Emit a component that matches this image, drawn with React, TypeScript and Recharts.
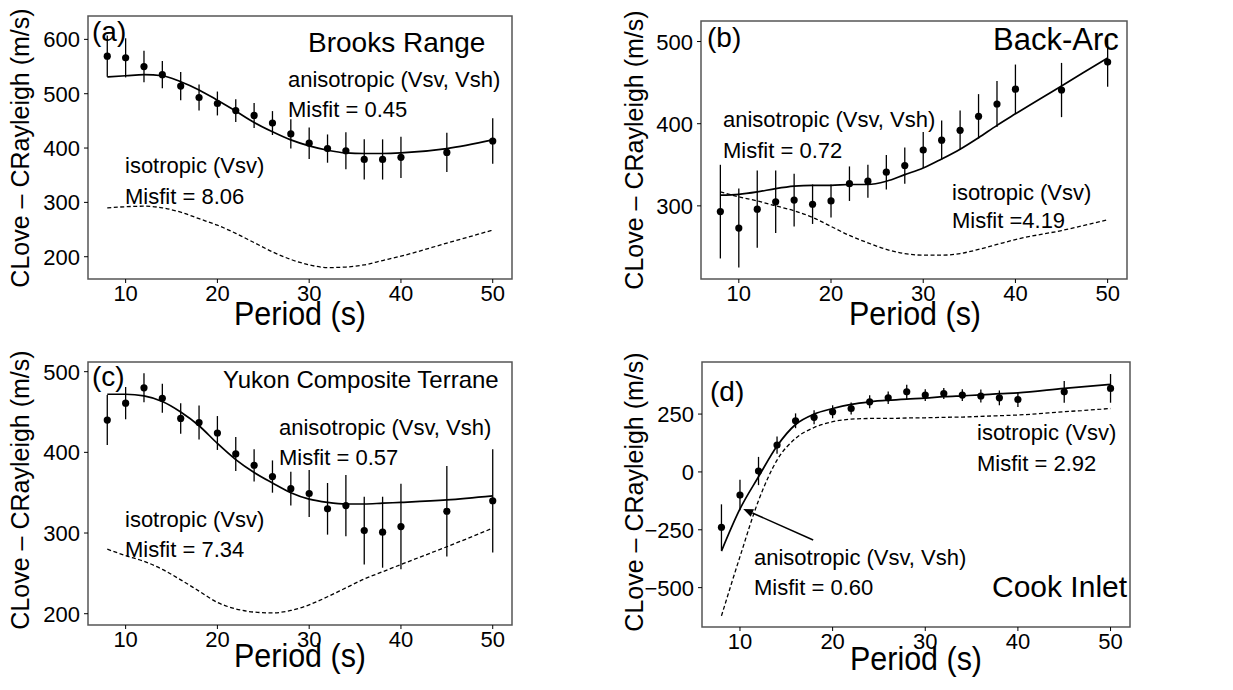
import React from "react";
import { ComposedChart, Line, Scatter, ErrorBar, XAxis, YAxis, ReferenceArea, ReferenceLine } from "recharts";

const periods = [8, 10, 12, 14, 16, 18, 20, 22, 24, 26, 28, 30, 32, 34, 36, 38, 40, 45, 50];
const xTicks = [10, 20, 30, 40, 50];

// (a) Brooks Range
const brooksObs = [569, 566, 550, 535, 514, 493, 482, 469, 460, 446, 426, 409, 399, 395, 379, 379, 383, 392, 413];
const brooksErr = [38, 36, 29, 25, 26, 24, 22, 21, 23, 22, 27, 29, 26, 34, 37, 37, 38, 36, 42];
const brooksAniso = [531, 533, 535, 533, 522, 507, 488, 468, 447, 430, 415, 404, 396, 391, 390, 390, 391, 399, 415];
const brooksIso = [290, 292, 293, 290, 282, 270, 258, 243, 226, 209, 195, 185, 180, 181, 185, 193, 201, 225, 249];

// (b) Back-Arc
const backArcObs = [293, 273, 296, 305, 307, 302, 306, 327, 330, 341, 349, 368, 380, 392, 409, 424, 442, 441, 475];
const backArcErr = [57, 48, 47, 38, 32, 24, 20, 21, 20, 21, 22, 22, 24, 24, 27, 28, 30, 33, 30];
const backArcAniso = [313, 314, 317, 321, 324, 325, 325, 326, 326, 330, 338, 346, 357, 369, 383, 398, 412, 446, 480];
const backArcIso = [317, 311, 306, 300, 294, 286, 275, 264, 255, 247, 242, 240, 240, 242, 247, 253, 259, 270, 283];

// (c) Yukon Composite Terrane
const yukonObs = [440, 461, 480, 467, 442, 437, 424, 398, 384, 370, 355, 349, 330, 334, 303, 301, 308, 327, 340];
const yukonErr = [31, 20, 18, 18, 19, 21, 21, 21, 20, 20, 21, 29, 32, 38, 42, 44, 53, 56, 64];
const yukonAniso = [472, 472, 470, 463, 450, 433, 411, 391, 375, 362, 350, 342, 338, 336, 336, 337, 338, 341, 346];
const yukonIso = [280, 272, 265, 255, 242, 228, 214, 206, 202, 201, 204, 211, 221, 232, 243, 252, 261, 283, 306];

// (d) Cook Inlet
const cookObs = [-239, -100, 4, 116, 221, 236, 260, 274, 303, 320, 346, 332, 339, 332, 328, 320, 313, 346, 361];
const cookErr = [99, 66, 61, 37, 32, 30, 28, 26, 28, 27, 31, 25, 24, 25, 28, 32, 32, 47, 62];
const cookAniso = [-342, -160, -21, 112, 205, 250, 274, 292, 303, 310, 315, 319, 325, 329, 333, 338, 342, 361, 378];
const cookIso = [-622, -366, -124, 51, 145, 192, 217, 228, 231, 231, 233, 234, 236, 237, 240, 243, 246, 260, 274];

const FONT = "'Liberation Sans', Arial, sans-serif";
const X_DOMAIN: [number, number] = [5.9, 52.1];

const makeRows = (obs: number[], err: number[], aniso: number[], iso: number[]) =>
  periods.map((p, i) => ({ p, obs: obs[i], err: err[i], aniso: aniso[i], iso: iso[i] }));

const Dot = (props: any) => <circle cx={props.cx} cy={props.cy} r={3.6} fill="#000" />;

const XTick = (props: any) => (
  <text x={props.x} y={props.y + 16} textAnchor="middle" fontSize={22} fontFamily={FONT} fill="#000">
    {props.payload.value}
  </text>
);

const YTick = (props: any) => (
  <text x={props.x} y={props.y + 8} textAnchor="end" fontSize={22} fontFamily={FONT} fill="#000">
    {String(props.payload.value).replace("-", "\u2212")}
  </text>
);

const Arrow = (props: any) => {
  const { x1, y1, x2, y2 } = props;
  const a = Math.atan2(y2 - y1, x2 - x1);
  const len = 10;
  const hw = 4;
  const bx = x2 - len * Math.cos(a);
  const by = y2 - len * Math.sin(a);
  const px = -Math.sin(a) * hw;
  const py = Math.cos(a) * hw;
  return (
    <g>
      <line x1={x1} y1={y1} x2={bx} y2={by} stroke="#000" strokeWidth={1.5} />
      <polygon points={`${x2},${y2} ${bx + px},${by + py} ${bx - px},${by - py}`} fill="#000" />
    </g>
  );
};

interface PanelProps {
  rect: { x: number; y: number; w: number; h: number };
  rows: any[];
  yDomain: [number, number];
  yTicks: number[];
  arrow?: { x: number; y: number }[];
}

function Panel({ rect, rows, yDomain, yTicks, arrow }: PanelProps) {
  const yw = 60, mt = 5, mr = 5, xh = 30;
  return (
    <div style={{ position: "absolute", left: rect.x - yw, top: rect.y - mt }}>
      <ComposedChart
        width={rect.w + yw + mr}
        height={rect.h + mt + xh}
        data={rows}
        margin={{ top: mt, right: mr, left: 0, bottom: 0 }}
      >
        <XAxis
          dataKey="p"
          type="number"
          domain={X_DOMAIN}
          ticks={xTicks}
          allowDataOverflow
          height={xh}
          tickSize={4}
          tickMargin={2}
          axisLine={false}
          tickLine={{ stroke: "#000" }}
          tick={XTick}
        />
        <YAxis
          type="number"
          domain={yDomain}
          ticks={yTicks}
          allowDataOverflow
          width={yw}
          tickSize={4}
          tickMargin={4}
          axisLine={false}
          tickLine={{ stroke: "#000" }}
          tick={YTick}
        />
        <ReferenceArea
          x1={X_DOMAIN[0]}
          x2={X_DOMAIN[1]}
          y1={yDomain[0]}
          y2={yDomain[1]}
          fill="none"
          fillOpacity={0}
          stroke="#555"
          strokeWidth={1.5}
          ifOverflow="visible"
        />
        <Line dataKey="iso" type="monotone" stroke="#000" strokeWidth={1.3} strokeDasharray="4 2.5" dot={false} isAnimationActive={false} />
        <Line dataKey="aniso" type="monotone" stroke="#000" strokeWidth={1.7} dot={false} isAnimationActive={false} />
        <Scatter dataKey="obs" fill="#000" shape={Dot} isAnimationActive={false}>
          <ErrorBar dataKey="err" direction="y" width={0} stroke="#000" strokeWidth={1.3} isAnimationActive={false} />
        </Scatter>
        {arrow && <ReferenceLine segment={arrow} shape={Arrow} ifOverflow="visible" />}
      </ComposedChart>
    </div>
  );
}

const notes = [
  { x: 92, y: 41, t: "(a)", s: 28 },
  { x: 308, y: 52, t: "Brooks Range", s: 28 },
  { x: 288, y: 87, t: "anisotropic (Vsv, Vsh)", s: 22 },
  { x: 288, y: 117, t: "Misfit = 0.45", s: 22 },
  { x: 125, y: 173, t: "isotropic (Vsv)", s: 22 },
  { x: 125, y: 204, t: "Misfit = 8.06", s: 22 },

  { x: 707, y: 47, t: "(b)", s: 28 },
  { x: 993, y: 50, t: "Back-Arc", s: 31 },
  { x: 723, y: 127, t: "anisotropic (Vsv, Vsh)", s: 22 },
  { x: 723, y: 158, t: "Misfit = 0.72", s: 22 },
  { x: 952, y: 200, t: "isotropic (Vsv)", s: 22 },
  { x: 952, y: 228, t: "Misfit =4.19", s: 22 },

  { x: 92, y: 386, t: "(c)", s: 28 },
  { x: 223, y: 388, t: "Yukon Composite Terrane", s: 24 },
  { x: 279, y: 435, t: "anisotropic (Vsv, Vsh)", s: 22 },
  { x: 279, y: 465, t: "Misfit = 0.57", s: 22 },
  { x: 125, y: 527, t: "isotropic (Vsv)", s: 22 },
  { x: 125, y: 557, t: "Misfit = 7.34", s: 22 },

  { x: 710, y: 401, t: "(d)", s: 28 },
  { x: 977, y: 440, t: "isotropic (Vsv)", s: 22 },
  { x: 977, y: 471, t: "Misfit = 2.92", s: 22 },
  { x: 754, y: 565, t: "anisotropic (Vsv, Vsh)", s: 22 },
  { x: 754, y: 595, t: "Misfit = 0.60", s: 22 },
  { x: 992, y: 597, t: "Cook Inlet", s: 30 },
];

const xLabels = [
  { x: 300, y: 325 },
  { x: 915, y: 325 },
  { x: 300, y: 667 },
  { x: 916, y: 670 },
];

const yLabels = [
  { x: 29, y: 148 },
  { x: 643, y: 150 },
  { x: 29, y: 490 },
  { x: 643, y: 492 },
];

export default function App() {
  return (
    <div style={{ position: "absolute", left: 0, top: 0, width: 1233, height: 690, background: "#fff", fontFamily: FONT }}>
      <Panel
        rect={{ x: 88, y: 16, w: 424, h: 263 }}
        rows={makeRows(brooksObs, brooksErr, brooksAniso, brooksIso)}
        yDomain={[159, 643]}
        yTicks={[200, 300, 400, 500, 600]}
      />
      <Panel
        rect={{ x: 701, y: 21, w: 426, h: 258 }}
        rows={makeRows(backArcObs, backArcErr, backArcAniso, backArcIso)}
        yDomain={[211, 525]}
        yTicks={[300, 400, 500]}
      />
      <Panel
        rect={{ x: 88, y: 362, w: 424, h: 263 }}
        rows={makeRows(yukonObs, yukonErr, yukonAniso, yukonIso)}
        yDomain={[186, 512]}
        yTicks={[200, 300, 400, 500]}
      />
      <Panel
        rect={{ x: 702, y: 362, w: 428, h: 265 }}
        rows={makeRows(cookObs, cookErr, cookAniso, cookIso)}
        yDomain={[-670, 475]}
        yTicks={[-500, -250, 0, 250]}
        arrow={[{ x: 17.9, y: -294 }, { x: 10.35, y: -160 }]}
      />
      <svg width={1233} height={690} style={{ position: "absolute", left: 0, top: 0, pointerEvents: "none" }}>
        {notes.map((n, i) => (
          <text key={i} x={n.x} y={n.y} fontSize={n.s} fontFamily={FONT} fill="#000">
            {n.t}
          </text>
        ))}
        {xLabels.map((l, i) => (
          <text key={"x" + i} x={l.x} y={l.y} fontSize={34} fontFamily={FONT} textAnchor="middle" textLength={132} lengthAdjust="spacingAndGlyphs" fill="#000">
            Period (s)
          </text>
        ))}
        {yLabels.map((l, i) => (
          <text key={"y" + i} x={l.x} y={l.y} fontSize={25} fontFamily={FONT} textAnchor="middle" transform={`rotate(-90 ${l.x} ${l.y})`} fill="#000">
            CLove – CRayleigh (m/s)
          </text>
        ))}
      </svg>
    </div>
  );
}
